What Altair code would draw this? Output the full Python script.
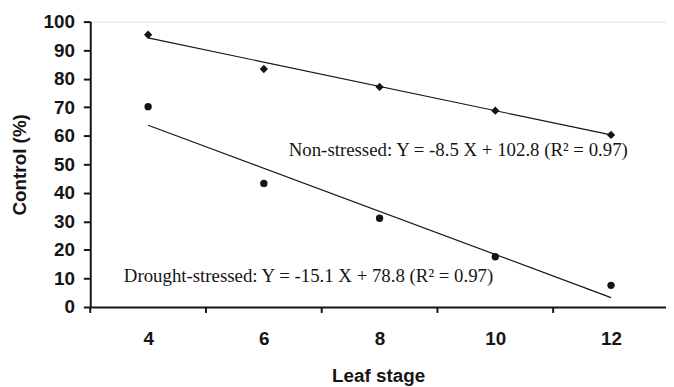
import altair as alt
import pandas as pd

# Data
stages = [4, 6, 8, 10, 12]
non_stressed = [95.4, 83.4, 77.1, 68.8, 60.3]
drought = [70.2, 43.3, 31.1, 17.6, 7.6]

fit_x = [4, 12]
fit_non_stressed = [94.3, 60.3]
fit_drought = [63.7, 3.3]

x_label_ticks = [4, 6, 8, 10, 12]
x_minor_ticks = [3, 5, 7, 9, 11]
y_ticks = [0, 10, 20, 30, 40, 50, 60, 70, 80, 90, 100]

eq_labels = [
    "Non-stressed: Y = -8.5 X + 102.8 (R\u00b2 = 0.97)",
    "Drought-stressed: Y = -15.1 X + 78.8 (R\u00b2 = 0.97)",
]
eq_x = [6.43, 3.58]
eq_y = [54.9, 10.8]

INK = "#151515"

pts_ns = pd.DataFrame({"stage": stages, "value": non_stressed})
pts_ds = pd.DataFrame({"stage": stages, "value": drought})
fit_ns = pd.DataFrame({"stage": fit_x, "value": fit_non_stressed})
fit_ds = pd.DataFrame({"stage": fit_x, "value": fit_drought})
eq_df = pd.DataFrame({"stage": eq_x, "value": eq_y, "label": eq_labels})
tick_df = pd.DataFrame({"stage": x_minor_ticks})

xscale = alt.Scale(domain=[3, 12.95], nice=False, zero=False)
yscale = alt.Scale(domain=[0, 100], nice=False)

x_axis = alt.Axis(
    values=x_label_ticks, ticks=False, grid=False, format="d", labelOverlap=False,
    domainColor=INK, domainWidth=2,
    labelFont="Liberation Sans", labelFontWeight="bold", labelFontSize=19,
    labelColor=INK, labelPadding=23,
    title="Leaf stage", titleFont="Liberation Sans", titleFontWeight="bold",
    titleFontSize=19, titleColor=INK, titlePadding=18,
)
y_axis = alt.Axis(
    values=y_ticks, grid=False, format="d", labelOverlap=False,
    domainColor=INK, domainWidth=2, tickColor=INK, tickWidth=2, tickSize=7,
    labelFont="Liberation Sans", labelFontWeight="bold", labelFontSize=19,
    labelColor=INK, labelPadding=9,
    title="Control (%)", titleFont="Liberation Sans", titleFontWeight="bold",
    titleFontSize=19, titleColor=INK, titlePadding=14,
)

X = alt.X("stage:Q", scale=xscale, axis=x_axis)
Y = alt.Y("value:Q", scale=yscale, axis=y_axis)

line_ns = alt.Chart(fit_ns).mark_line(color=INK, strokeWidth=1.2).encode(x=X, y=Y)
line_ds = alt.Chart(fit_ds).mark_line(color=INK, strokeWidth=1.2).encode(x=X, y=Y)

dia = alt.Chart(pts_ns).mark_point(shape="diamond", filled=True, color=INK, size=70, opacity=1).encode(
    x=X, y=Y)
circ = alt.Chart(pts_ds).mark_point(shape="circle", filled=True, color=INK, size=55, opacity=1).encode(
    x=X, y=Y)

eq = alt.Chart(eq_df).mark_text(
    align="left", baseline="middle", font="Liberation Serif", fontSize=19, color=INK
).encode(x=X, y=Y, text="label:N")

ticks = alt.Chart(tick_df).mark_rule(color=INK, strokeWidth=2).encode(
    x=X, y=alt.value(288), y2=alt.value(294))

chart = alt.layer(line_ns, line_ds, dia, circ, eq, ticks).properties(
    width=581, height=288,
    autosize=alt.AutoSizeParams(type="none"),
    padding={"left": 83, "top": 12, "right": 0, "bottom": 80},
).configure_view(stroke=None).configure(background="white")

chart.save("out.html", embed_options={"renderer": "svg", "actions": False})
